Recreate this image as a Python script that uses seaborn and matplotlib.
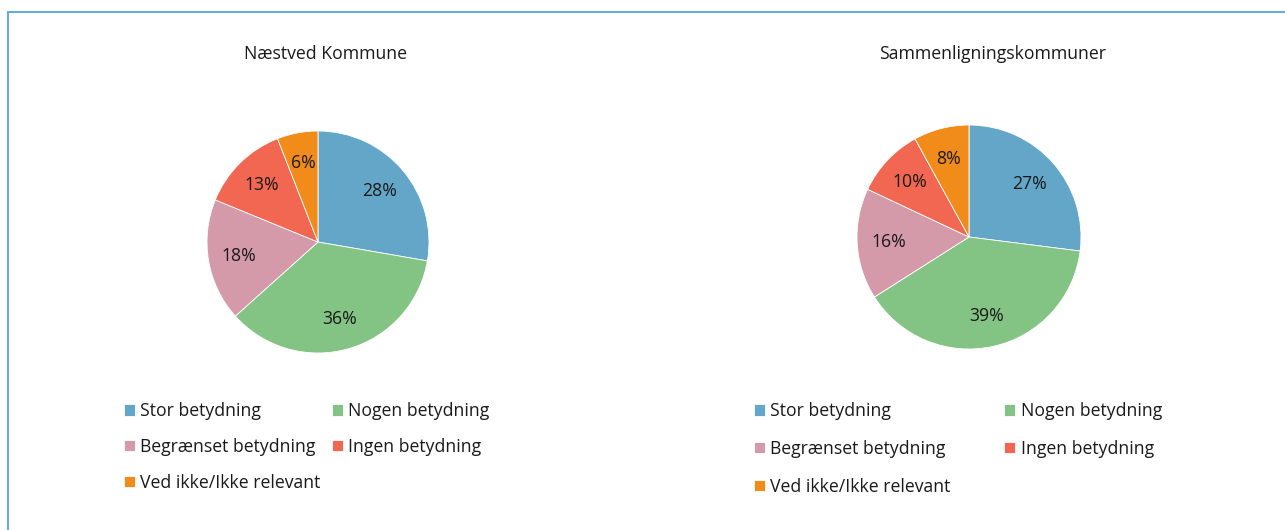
import matplotlib.pyplot as plt
import matplotlib.patches as mpatches
import seaborn as sns

sns.set_theme(style="white")
plt.rcParams["font.family"] = ["Open Sans", "DejaVu Sans"]

categories = ["Stor betydning", "Nogen betydning", "Begrænset betydning",
              "Ingen betydning", "Ved ikke/Ikke relevant"]
naestved = [28, 36, 18, 13, 6]
sammenlign = [27, 39, 16, 10, 8]
titles = ["Næstved Kommune", "Sammenligningskommuner"]
colors = ["#63A6C8", "#83C383", "#D49AAA", "#F16751", "#F18C1A"]

W, H = 1285, 530
FS = 12.7
fig = plt.figure(figsize=(W / 100, H / 100), dpi=100)

# light blue frame around the chart
fig.patches.append(mpatches.Rectangle((8 / W, -0.1), 1.2, 1 - 12 / H + 0.1,
                                      transform=fig.transFigure, fill=False,
                                      edgecolor="#6AAAD4", linewidth=1.5))


def draw_pie(values, title, cx, cy, r, title_x, legend_x, colspace, rowspace):
    ax = fig.add_axes([(cx - r) / W, (H - cy - r) / H, 2 * r / W, 2 * r / H])
    wedges, _, autotexts = ax.pie(
        values, colors=colors, startangle=90, counterclock=False,
        autopct=lambda p: f"{round(p)}%", pctdistance=0.72,
        wedgeprops=dict(edgecolor="white", linewidth=0.6),
        textprops=dict(fontsize=FS, color="#1a1a1a"))
    ax.set_xlim(-1, 1)
    ax.set_ylim(-1, 1)
    fig.text(title_x / W, 1 - 54 / H, title, ha="center", va="center",
             fontsize=FS, color="#1a1a1a")
    # legend reads row by row: reorder for matplotlib's column-major fill
    order = [0, 2, 4, 1, 3]
    fig.legend([wedges[i] for i in order], [categories[i] for i in order],
               loc="upper left", bbox_to_anchor=(legend_x / W, 1 - 402 / H),
               ncol=2, frameon=False, fontsize=FS, labelcolor="#1a1a1a",
               handlelength=0.62, handleheight=0.62, handletextpad=0.3,
               labelspacing=rowspace, columnspacing=colspace, borderpad=0,
               borderaxespad=0)


draw_pie(naestved, titles[0], 318, 242, 111, 326, 124, 0.65, 1.02)
draw_pie(sammenlign, titles[1], 969, 237, 112, 993, 754, 3.05, 1.12)

fig.savefig("out.png", dpi=100)
